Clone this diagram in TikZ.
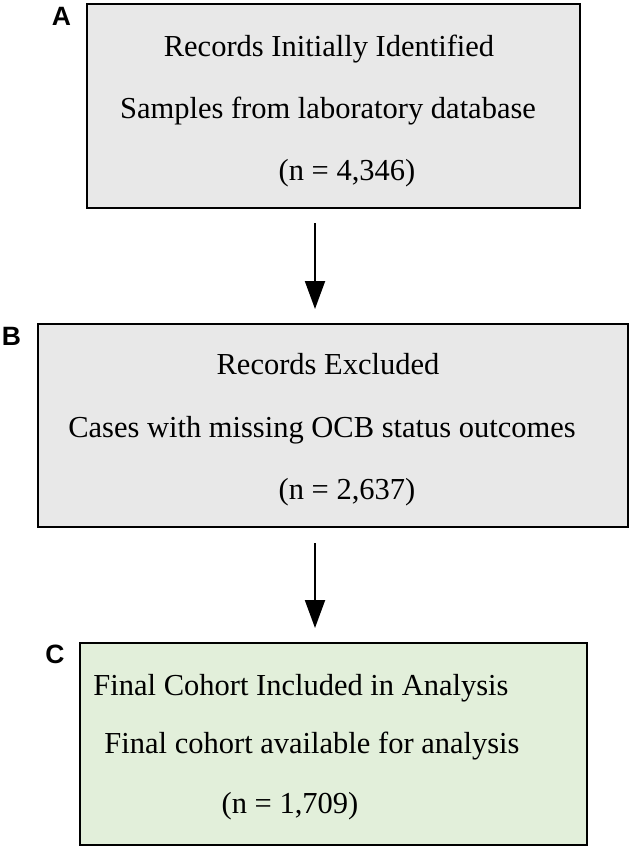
\documentclass[tikz,border=0pt]{standalone}
\usepackage{fontspec}
\setmainfont{Liberation Serif}
\newfontfamily\labelfont{Liberation Sans}
\usetikzlibrary{arrows.meta}
\definecolor{boxgray}{HTML}{E8E8E8}
\definecolor{boxgreen}{HTML}{E2EFDA}
\begin{document}
\begin{tikzpicture}[x=1pt,y=-1pt,
  box/.style={draw=black,line width=2.6pt,inner sep=0pt,outer sep=0pt},
  txt/.style={anchor=base,inner sep=0pt,font=\fontsize{30.5}{36}\selectfont},
  panel/.style={anchor=base,inner sep=0pt,font=\labelfont\bfseries\fontsize{26.5}{30}\selectfont},
  flow/.style={line width=2pt,-{Triangle[width=20pt,length=28pt]}}]
\useasboundingbox (0,0) rectangle (633,852);
% boxes
\node[box,fill=boxgray,minimum width=493pt,minimum height=204pt] (A) at (333.5,106) {};
\node[box,fill=boxgray,minimum width=590pt,minimum height=203pt] (B) at (333,425.5) {};
\node[box,fill=boxgreen,minimum width=507pt,minimum height=202pt] (C) at (333.5,744) {};
% panel labels
\node[panel] (la) at (61.5,25.5) {A};
\node[panel] (lb) at (11.5,345.5) {B};
\node[panel] (lc) at (55,663.5) {C};
% texts
\node[txt] (a1) at (329,56) {Records Initially Identified};
\node[txt] (a2) at (328,118) {Samples from laboratory database};
\node[txt] (a3) at (347,180) {(n = 4,346)};
\node[txt] (b1) at (328,374) {Records Excluded};
\node[txt] (b2) at (322,437) {Cases with missing OCB status outcomes};
\node[txt] (b3) at (347,499) {(n = 2,637)};
\node[txt] (c1) at (301,695) {Final Cohort Included in Analysis};
\node[txt] (c2) at (312,753) {Final cohort available for analysis};
\node[txt] (c3) at (290,813) {(n = 1,709)};
% arrows
\coordinate (ax) at (315,0);
\draw[flow,shorten <=15pt,shorten >=15pt] (A.south -| ax) -- (B.north -| ax);
\draw[flow,shorten <=16pt,shorten >=15pt] (B.south -| ax) -- (C.north -| ax);
\end{tikzpicture}
\end{document}
